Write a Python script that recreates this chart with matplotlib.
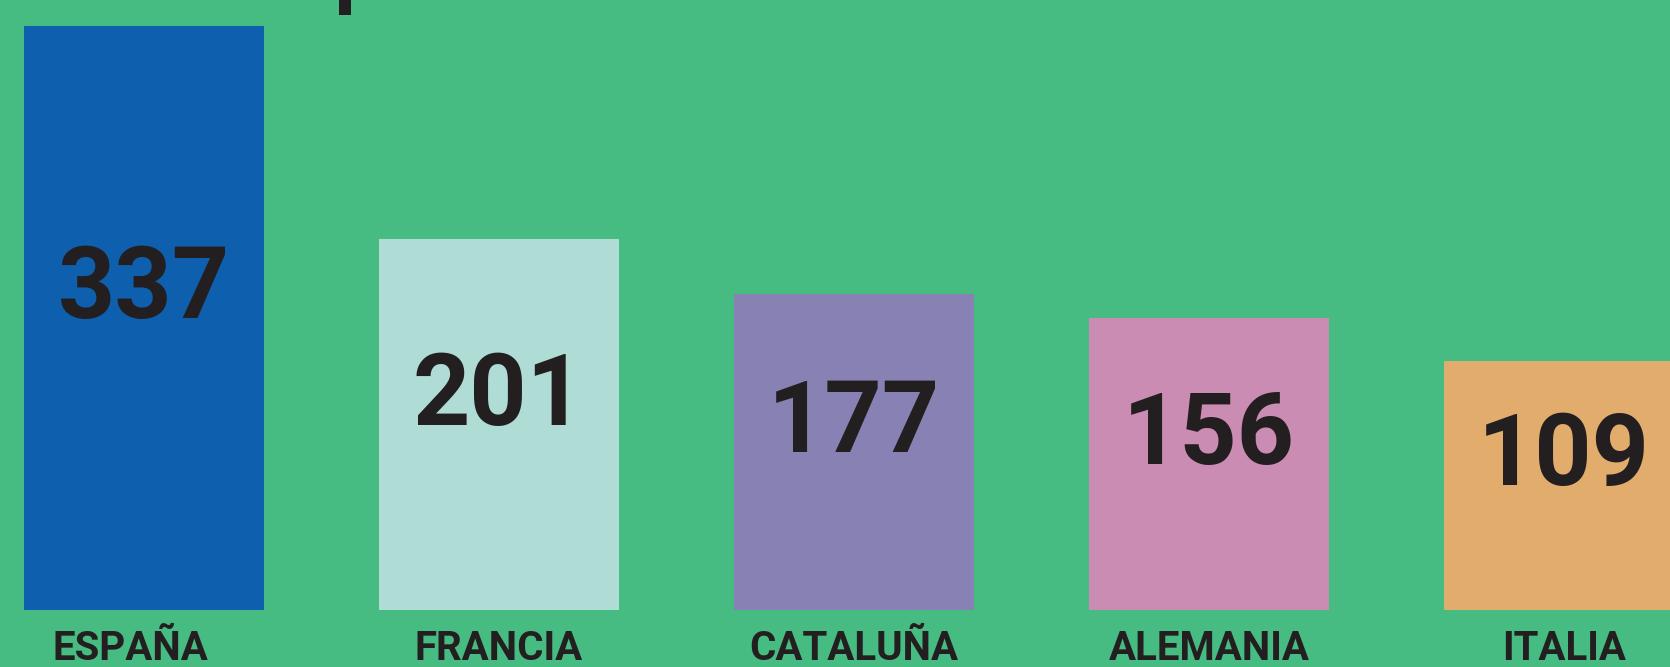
import matplotlib
matplotlib.use('Agg')
from matplotlib import pyplot as plt
from matplotlib.patches import Rectangle

countries = ['ESPAÑA', 'FRANCIA', 'CATALUÑA', 'ALEMANIA', 'ITALIA']
values = [337, 201, 177, 156, 109]
# bar heights as drawn in the infographic (not to scale with the labels)
bar_heights = [337, 213.9, 182.2, 168.3, 143.9]
colors = ['#0E60AE', '#B0DCD6', '#8882B4', '#CA8CB3', '#E2AC6D']

bg = '#46BC82'
ink = '#231F20'

plt.rcParams['font.family'] = ['Roboto', 'DejaVu Sans']

fig = plt.figure(figsize=(16.7, 6.67), dpi=100)
fig.patch.set_facecolor(bg)
ax = fig.add_axes([0, 0, 1, 1])
ax.set_facecolor(bg)

x = list(range(len(countries)))
ax.bar(x, bar_heights, width=240 / 355, color=colors, linewidth=0)

# numbers inside the bars, labels underneath
label_nudge = [-0.037, 0, 0, 0, 0]
for i in x:
	ax.text(i, bar_heights[i] / 2, str(values[i]), ha='center', va='baseline',
			fontsize=72, fontweight='bold', color=ink)
	ax.text(i + label_nudge[i], -28.9, countries[i], ha='center', va='baseline',
			fontsize=29, fontweight='bold', color=ink)

ax.set_xlim(-144 / 355, (1670 - 144) / 355)
ax.set_ylim(-57 / 1.733, (667 - 57) / 1.733)
ax.axis('off')

# bit of a cut-off heading at the top edge
fig.add_artist(Rectangle((339 / 1670, 652 / 667), 12 / 1670, 15 / 667,
						 transform=fig.transFigure, color=ink, linewidth=0))

fig.savefig('out.png', dpi=100, facecolor=bg)
